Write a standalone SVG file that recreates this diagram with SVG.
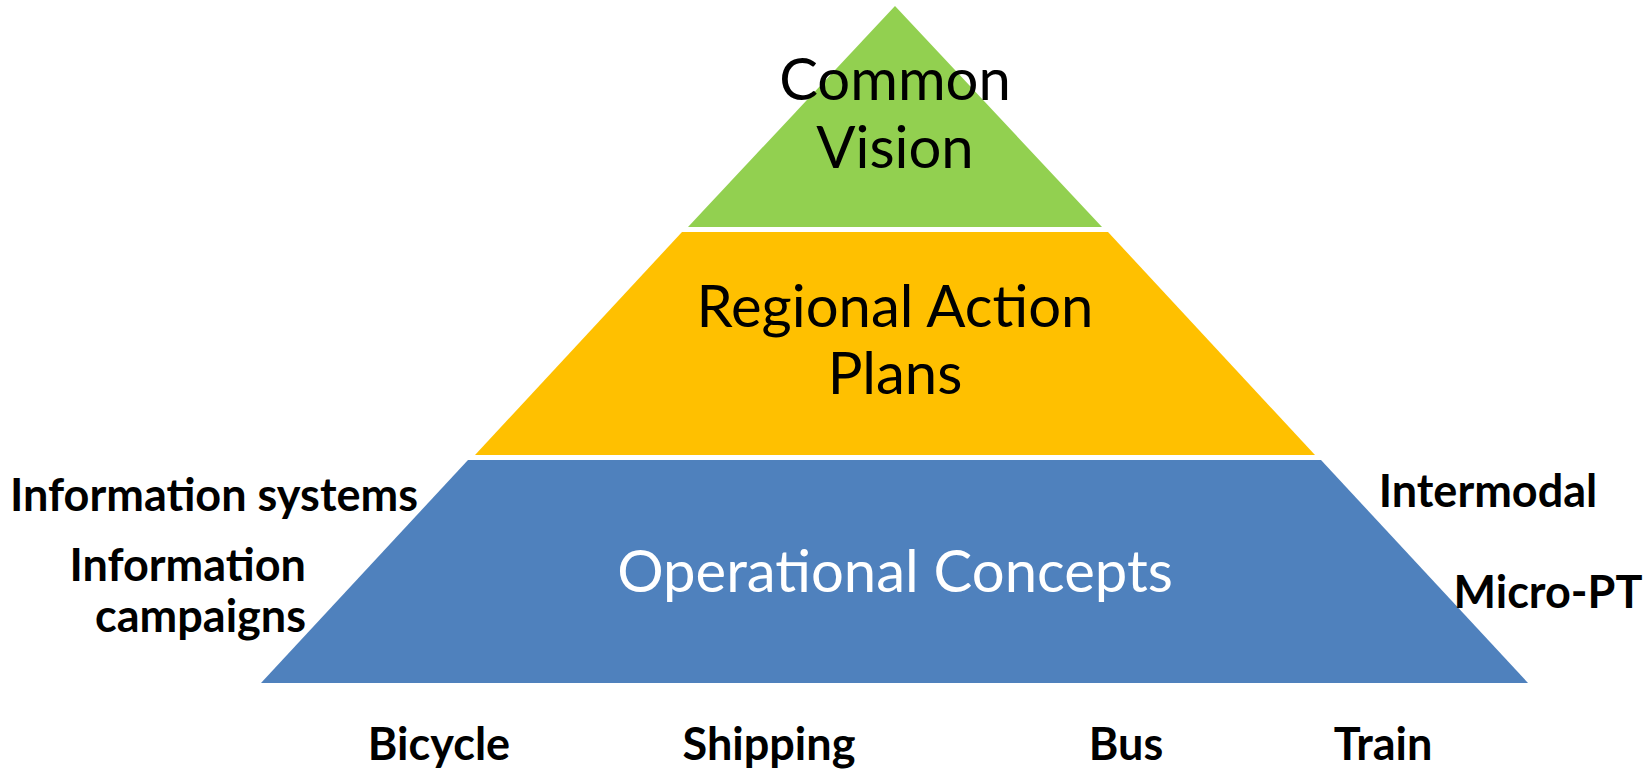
<svg xmlns="http://www.w3.org/2000/svg" width="1651" height="776" viewBox="0 0 1651 776">
<style>
.big{font-family:Lato,"Open Sans","Liberation Sans",sans-serif;font-size:58px;text-anchor:middle;fill:#000}
.lbl{font-family:Lato,"Open Sans","Liberation Sans",sans-serif;font-size:45px;font-weight:bold;fill:#000}
.mid{text-anchor:middle}
.end{text-anchor:end}
</style>
<rect width="1651" height="776" fill="#fff"/>
<g id="vision">
<polygon points="895,6 1102,227 688,227" fill="#92D050"/>
<text class="big" x="895" y="100">Common</text>
<text class="big" x="895" y="168">Vision</text>
</g>
<g id="regional">
<polygon points="682,232 1108,232 1315,455 475,455" fill="#FFC000"/>
<text class="big" x="895" y="327">Regional Action</text>
<text class="big" x="895" y="394">Plans</text>
</g>
<g id="operational">
<polygon points="468,460 1321,460 1528,683 261,683" fill="#4F81BD"/>
<text class="big" x="895" y="592" style="fill:#fff">Operational Concepts</text>
</g>
<g id="labels">
<text class="lbl mid" x="214" y="511">Information systems</text>
<text class="lbl end" x="306" y="581">Information</text>
<text class="lbl end" x="306" y="632">campaigns</text>
<text class="lbl mid" x="1488" y="507">Intermodal</text>
<text class="lbl mid" x="1548" y="608">Micro-PT</text>
<text class="lbl mid" x="439" y="760">Bicycle</text>
<text class="lbl mid" x="769" y="760">Shipping</text>
<text class="lbl mid" x="1126" y="760">Bus</text>
<text class="lbl mid" x="1383" y="760">Train</text>
</g>
<g id="connectors"></g>
</svg>
